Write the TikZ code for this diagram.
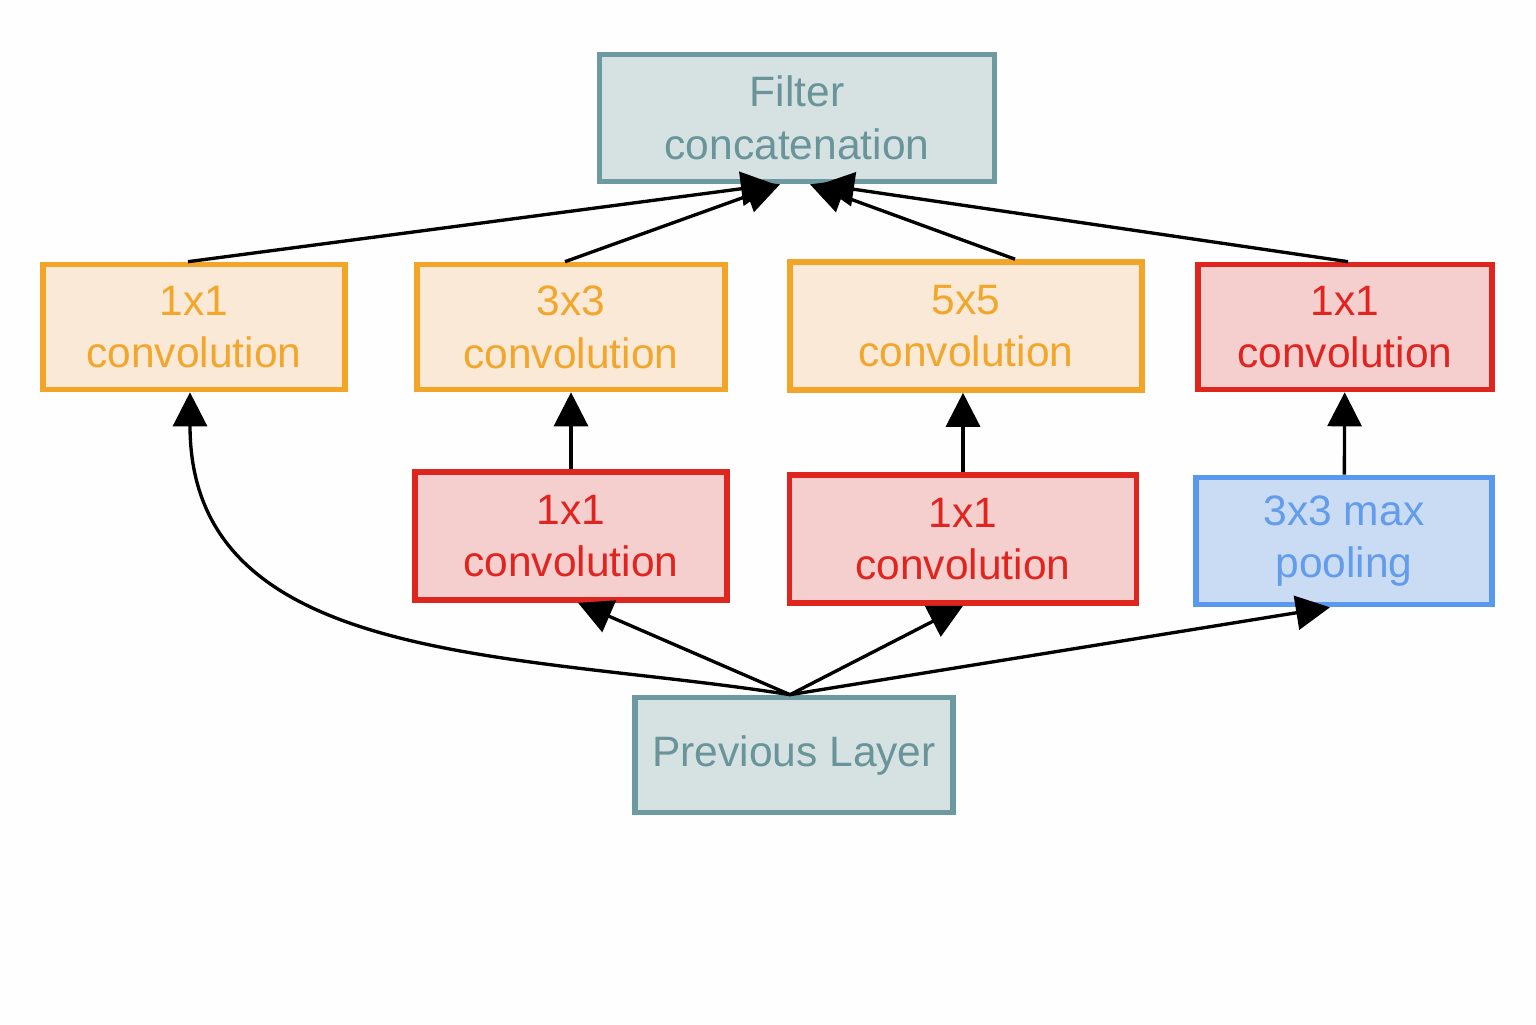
\documentclass[tikz,border=0pt]{standalone}
\usepackage{fontspec}
\setmainfont{Liberation Sans}
\usetikzlibrary{positioning, calc, arrows.meta}
\definecolor{incTeal}{RGB}{108,154,160}
\definecolor{incTealFill}{RGB}{214,225,226}
\definecolor{incTealText}{RGB}{104,148,154}
\definecolor{incOrange}{RGB}{243,165,40}
\definecolor{incOrangeFill}{RGB}{251,233,215}
\definecolor{incOrangeText}{RGB}{242,166,44}
\definecolor{incRed}{RGB}{222,38,30}
\definecolor{incRedFill}{RGB}{245,206,206}
\definecolor{incRedText}{RGB}{224,36,32}
\definecolor{incBlue}{RGB}{88,152,238}
\definecolor{incBlueFill}{RGB}{202,219,244}
\definecolor{incBlueText}{RGB}{98,156,234}

\begin{document}
\begin{tikzpicture}[
        box/.style={draw, line width=1.6pt, minimum height=1.25cm, align=center, font=\fontsize{12.1}{15}\selectfont},
        tealbox/.style={box, draw=incTeal, fill=incTealFill, text=incTealText},
        convbox/.style={box, draw=incOrange, fill=incOrangeFill, text=incOrangeText},
        redbox/.style={box, draw=incRed, fill=incRedFill, text=incRedText},
        poolbox/.style={box, draw=incBlue, fill=incBlueFill, text=incBlueText},
        link/.style={line width=0.95pt, -{Triangle[length=0.34cm, width=0.34cm]}}
      ]
        \useasboundingbox[fill=white!99.5!black] (0,0) rectangle (15.36,10.24);
        \node[tealbox, minimum width=3.95cm, minimum height=1.27cm] (concat) at (7.97,9.06) {Filter\\concatenation};
        \node[convbox, minimum width=3.02cm] (c1) at (1.94,6.97) {1x1\\convolution};
        \node[convbox, minimum width=3.08cm] (c3) at (5.71,6.97) {3x3\\convolution};
        \node[convbox, minimum width=3.52cm, minimum height=1.28cm] (c5) at (9.66,6.98) {5x5\\convolution};
        \node[redbox, minimum width=2.94cm] (cp) at (13.45,6.97) {1x1\\convolution};
        \node[redbox, minimum width=3.12cm, minimum height=1.28cm] (r3) at (5.71,4.88) {1x1\\convolution};
        \node[redbox, minimum width=3.47cm, minimum height=1.28cm] (r5) at (9.63,4.85) {1x1\\convolution};
        \node[poolbox, minimum width=2.96cm, minimum height=1.27cm] (pool) at (13.44,4.83) {3x3 max\\pooling};
        \node[tealbox, minimum width=3.18cm, minimum height=1.15cm] (prev) at (7.94,2.69) {Previous Layer};
        \coordinate (src) at ([xshift=-0.04cm]prev.north);
        % previous layer to the first row
        \draw[link] (src) to[out=171, in=-90, looseness=1.05] ([xshift=-0.04cm]c1.south);
        \draw[link] (src) -- ([xshift=0.07cm]r3.south);
        \draw[link] (src) -- (r5.south);
        \draw[link] (src) -- ([xshift=-0.14cm]pool.south);
        % reductions to the convolutions
        \draw[link] (r3) -- (c3);
        \draw[link] (r5.north) -- (r5.north |- c5.south);
        \draw[link] (pool) -- (cp);
        % everything into the concatenation
        \draw[link] ([xshift=-0.06cm]c1.north) -- ([xshift=-0.22cm]concat.south);
        \draw[link] ([xshift=-0.06cm]c3.north) -- ([xshift=-0.17cm]concat.south);
        \draw[link] ([xshift=0.49cm]c5.north) -- ([xshift=0.13cm]concat.south);
        \draw[link] ([xshift=0.03cm]cp.north) -- ([xshift=0.23cm]concat.south);
      \end{tikzpicture}
\end{document}
